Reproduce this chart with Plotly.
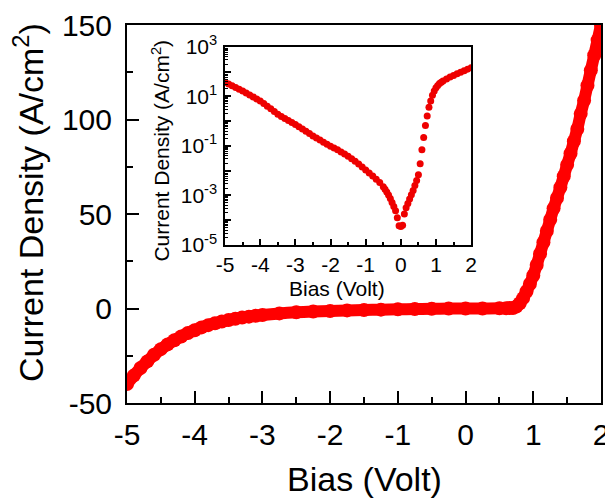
import plotly.graph_objects as go

# ---------------- data ----------------
# Main panel: linear J-V
main_bias = [-5.0, -4.9, -4.8, -4.7, -4.6, -4.5, -4.4, -4.3, -4.2, -4.1, -4.0,
             -3.9, -3.8, -3.7, -3.6, -3.5, -3.4, -3.3, -3.2, -3.1, -3.0,
             -2.75, -2.5, -2.25, -2.0, -1.75, -1.5, -1.25, -1.0, -0.75, -0.5,
             -0.25, 0.0, 0.25, 0.5, 0.6, 0.65,
             0.70, 0.75, 0.80, 0.85, 0.90, 0.95, 1.00, 1.05, 1.10, 1.15, 1.20,
             1.25, 1.30, 1.35, 1.40, 1.45, 1.50, 1.55, 1.60, 1.65, 1.70, 1.75,
             1.80, 1.85, 1.90, 1.95, 2.00]
main_current = [-40, -35.5, -31.5, -28, -24.5, -21.5, -19, -16.8, -14.8, -13, -11.5,
                -10, -8.8, -7.8, -6.9, -6.1, -5.4, -4.8, -4.3, -3.8, -3.4,
                -2.6, -2.0, -1.6, -1.3, -1.0, -0.8, -0.6, -0.45, -0.3, -0.15,
                -0.05, 0.0, 0.02, 0.1, 0.15, 0.2,
                0.3, 1.0, 2.8, 5.5, 9, 13, 17.5, 23, 29, 35, 41,
                47, 53, 58.5, 64, 70, 76, 82, 88.5, 95, 103, 110,
                118, 126, 134, 142, 150]

# Inset: |J| on log scale
inset_bias = [-5.0, -4.9, -4.8, -4.7, -4.6, -4.5, -4.4, -4.3, -4.2, -4.1, -4.0,
              -3.9, -3.8, -3.7, -3.6, -3.5, -3.4, -3.3, -3.2, -3.1, -3.0,
              -2.9, -2.8, -2.7, -2.6, -2.5, -2.4, -2.3, -2.2, -2.1, -2.0,
              -1.9, -1.8, -1.7, -1.6, -1.5, -1.4, -1.3, -1.2, -1.1, -1.0,
              -0.9, -0.8, -0.7, -0.6, -0.5, -0.45, -0.4, -0.35, -0.3, -0.25,
              -0.2, -0.15, -0.1, -0.05, 0.0, 0.05, 0.1, 0.15, 0.2, 0.25,
              0.3, 0.35, 0.4, 0.45, 0.5, 0.55, 0.6, 0.65, 0.7, 0.75,
              0.8, 0.85, 0.9, 0.95, 1.0, 1.05, 1.1, 1.15, 1.2, 1.3,
              1.4, 1.5, 1.6, 1.7, 1.8, 1.9, 2.0]
inset_current = [37.2, 31.6, 26.9, 22.9, 19.5, 16.6, 13.8, 11.5, 9.55, 7.94, 6.61,
                 5.13, 3.98, 3.16, 2.45, 1.91, 1.55, 1.29, 1.07, 0.891, 0.741,
                 0.603, 0.479, 0.389, 0.316, 0.251, 0.209, 0.174, 0.141, 0.117, 0.0977,
                 0.0832, 0.0708, 0.0575, 0.0468, 0.0380, 0.0302, 0.0240, 0.0186, 0.0141, 0.0107,
                 0.00813, 0.00617, 0.00457, 0.00331, 0.00224, 0.00178, 0.00138, 0.00105, 0.000759, 0.000525,
                 0.000355, 0.000240, 0.000126, 0.0000603, 0.0000562, 0.0000631, 0.000178, 0.000316, 0.000479, 0.000724,
                 0.00107, 0.00158, 0.00251, 0.00398, 0.00692, 0.0191, 0.0708, 0.219, 0.676, 1.62,
                 3.63, 6.61, 11.2, 16.6, 22.4, 27.5, 33.1, 37.2, 41.7, 50.1,
                 60.3, 70.8, 83.2, 95.5, 110, 126, 145]

main_x_ticks = [-5, -4, -3, -2, -1, 0, 1, 2]
main_x_labels = ["-5", "-4", "-3", "-2", "-1", "0", "1", "2"]
main_y_ticks = [-50, 0, 50, 100, 150]
main_y_labels = ["-50", "0", "50", "100", "150"]
inset_y_ticks = [1e-5, 1e-4, 1e-3, 1e-2, 1e-1, 1e0, 1e1, 1e2, 1e3]
inset_y_labels = ["10<sup>-5</sup>", "", "10<sup>-3</sup>", "", "10<sup>-1</sup>", "",
                  "10<sup>1</sup>", "", "10<sup>3</sup>"]

FONT = "Liberation Sans, Arial, sans-serif"
RED = "#ff0000"

fig = go.Figure()
fig.add_trace(go.Scatter(
    x=main_bias, y=main_current, mode="lines+markers",
    line=dict(color=RED, width=12, shape="spline"),
    marker=dict(color=RED, size=14),
    xaxis="x", yaxis="y", showlegend=False))
fig.add_trace(go.Scatter(
    x=inset_bias, y=inset_current, mode="markers",
    marker=dict(color="#ee0000", size=7),
    xaxis="x2", yaxis="y2", showlegend=False))

minor_log = [m * 10.0 ** k for k in range(-5, 3) for m in range(2, 10)]

# page body has an 8 px margin, so the figure is 8 px smaller and shifted
fig.update_layout(
    width=605, height=493, autosize=False,
    margin=dict(l=119, r=12, t=17, b=98, autoexpand=False),
    paper_bgcolor="white", plot_bgcolor="white",
    font=dict(family=FONT, color="black"),
    xaxis=dict(domain=[0, 1], range=[-5, 2], tickvals=main_x_ticks, ticktext=main_x_labels,
               ticks="inside", ticklen=12, tickwidth=2, tickcolor="black",
               minor=dict(dtick=0.5, tick0=0, ticks="inside", ticklen=6, tickwidth=2, tickcolor="black"),
               showline=True, linecolor="black", linewidth=2, mirror=True,
               showgrid=False, zeroline=False, automargin=False,
               tickfont=dict(size=30, family=FONT), ticklabelstandoff=4),
    yaxis=dict(domain=[0, 1], range=[-50, 150], tickvals=main_y_ticks, ticktext=main_y_labels,
               ticks="inside", ticklen=12, tickwidth=2, tickcolor="black",
               minor=dict(dtick=25, tick0=0, ticks="inside", ticklen=6, tickwidth=2, tickcolor="black"),
               showline=True, linecolor="black", linewidth=2, mirror=True,
               showgrid=False, zeroline=False, automargin=False,
               tickfont=dict(size=30, family=FONT), ticklabelstandoff=7),
    xaxis2=dict(domain=[0.207, 0.726], anchor="y2", range=[-5, 2], tickvals=main_x_ticks,
                ticktext=main_x_labels,
                ticks="inside", ticklen=6, tickwidth=1.5, tickcolor="black",
                minor=dict(dtick=0.5, tick0=0, ticks="inside", ticklen=3, tickwidth=1.5, tickcolor="black"),
                showline=True, linecolor="black", linewidth=1.5, mirror=True,
                showgrid=False, zeroline=False, automargin=False,
                tickfont=dict(size=21, family=FONT), ticklabelstandoff=0),
    yaxis2=dict(domain=[0.418, 0.942], anchor="x2", type="log", range=[-5, 3],
                tickvals=inset_y_ticks, ticktext=inset_y_labels,
                ticks="inside", ticklen=6, tickwidth=1.5, tickcolor="black",
                minor=dict(tickvals=minor_log, ticks="inside", ticklen=3, tickwidth=1, tickcolor="black"),
                showline=True, linecolor="black", linewidth=1.5, mirror=True,
                showgrid=False, zeroline=False, automargin=False,
                tickfont=dict(size=21, family=FONT), ticklabelstandoff=2),
    annotations=[
        dict(text="Current Density (A/cm<sup>2</sup>)", xref="paper", yref="paper",
             x=-0.208, y=0.53, textangle=-90, showarrow=False,
             font=dict(size=34, family=FONT), xanchor="center", yanchor="middle"),
        dict(text="Bias (Volt)", xref="paper", yref="paper",
             x=0.5, y=-0.201, showarrow=False,
             font=dict(size=34, family=FONT), xanchor="center", yanchor="middle"),
        dict(text="Current Density (A/cm<sup>2</sup>)", xref="paper", yref="paper",
             x=0.072, y=0.668, textangle=-90, showarrow=False,
             font=dict(size=21, family=FONT), xanchor="center", yanchor="middle"),
        dict(text="Bias (Volt)", xref="paper", yref="paper",
             x=0.443, y=0.302, showarrow=False,
             font=dict(size=21, family=FONT), xanchor="center", yanchor="middle"),
    ],
)

fig.write_html("out.html")
